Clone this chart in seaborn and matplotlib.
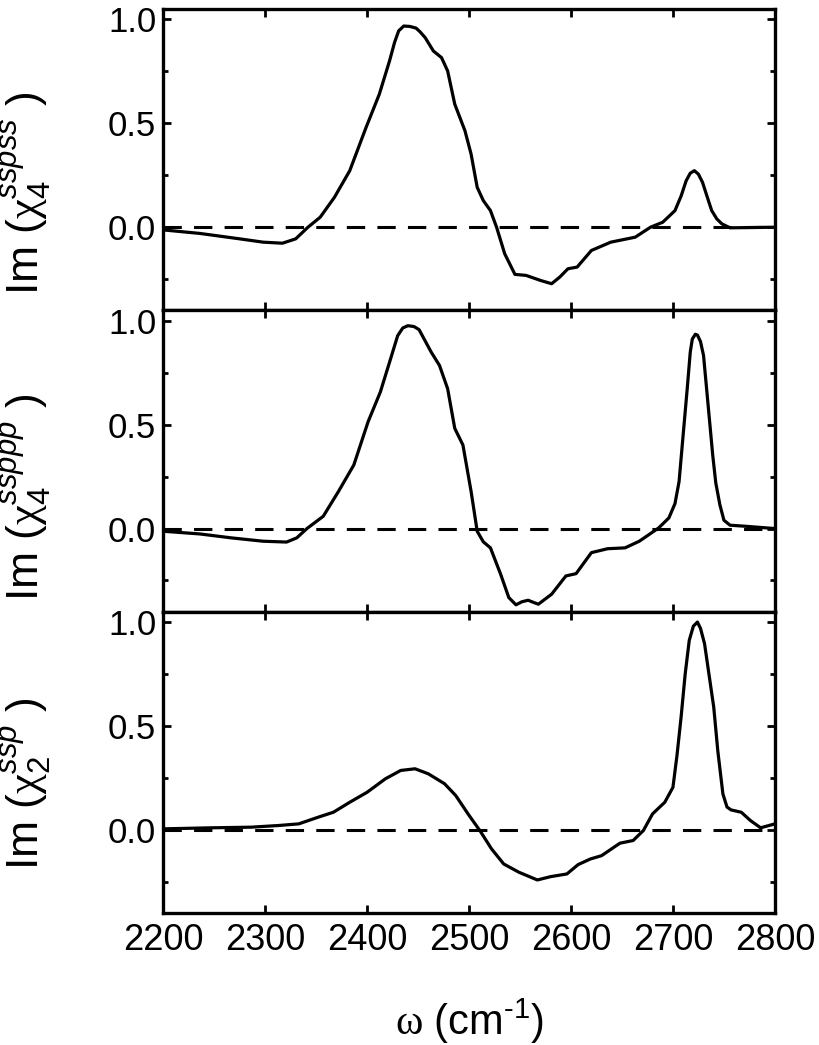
import matplotlib
matplotlib.use("Agg")
import matplotlib.pyplot as plt
import matplotlib.ticker as mticker
import pandas as pd
import seaborn as sns

sns.set_theme(style="white")
plt.rcParams['font.family'] = ['Liberation Sans', 'DejaVu Sans']
plt.rcParams['mathtext.fontset'] = 'custom'
plt.rcParams['mathtext.rm'] = 'Liberation Sans'
plt.rcParams['mathtext.it'] = 'Liberation Sans:italic'
plt.rcParams['mathtext.sf'] = 'Liberation Serif'
plt.rcParams['text.color'] = 'black'
plt.rcParams['axes.labelcolor'] = 'black'
plt.rcParams['xtick.color'] = 'black'
plt.rcParams['ytick.color'] = 'black'

## Data
x_sspss = [2200, 2236, 2275, 2298, 2317, 2330, 2342, 2354, 2368, 2383, 2399, 2412, 2422,
           2427, 2431, 2436, 2442, 2448, 2452, 2457, 2465, 2473, 2479, 2486, 2496, 2502,
           2508, 2514, 2521, 2527, 2535, 2545, 2556, 2570, 2581, 2589, 2597, 2606, 2620,
           2639, 2663, 2678, 2690, 2702, 2708, 2713, 2717, 2721, 2725, 2729, 2734, 2738,
           2743, 2748, 2756, 2800]
y_sspss = [-0.013, -0.030, -0.056, -0.072, -0.077, -0.056, 0.000, 0.048, 0.144, 0.272,
           0.480, 0.640, 0.800, 0.890, 0.945, 0.968, 0.966, 0.958, 0.940, 0.912, 0.848,
           0.816, 0.752, 0.592, 0.464, 0.352, 0.192, 0.128, 0.080, 0.000, -0.128, -0.227,
           -0.232, -0.256, -0.272, -0.240, -0.200, -0.192, -0.112, -0.072, -0.048, 0.000,
           0.024, 0.080, 0.150, 0.224, 0.260, 0.272, 0.255, 0.216, 0.140, 0.080, 0.040,
           0.016, -0.003, 0.000]

x_ssppp = [2200, 2236, 2267, 2298, 2321, 2331, 2341, 2357, 2372, 2387, 2401, 2413, 2422,
           2430, 2435, 2440, 2446, 2451, 2463, 2471, 2479, 2486, 2494, 2502, 2508, 2514,
           2521, 2531, 2539, 2546, 2552, 2558, 2563, 2568, 2581, 2595, 2605, 2620, 2636,
           2653, 2667, 2686, 2696, 2702, 2706, 2710, 2714, 2717, 2719, 2722, 2724, 2727,
           2730, 2734, 2739, 2742, 2746, 2750, 2756, 2771, 2800]
y_ssppp = [-0.013, -0.026, -0.045, -0.061, -0.065, -0.045, 0.000, 0.059, 0.179, 0.306,
           0.514, 0.657, 0.800, 0.928, 0.965, 0.976, 0.972, 0.957, 0.848, 0.785, 0.673,
           0.482, 0.402, 0.179, -0.013, -0.064, -0.093, -0.220, -0.332, -0.367, -0.352,
           -0.345, -0.355, -0.364, -0.316, -0.228, -0.217, -0.116, -0.097, -0.093,
           -0.061, 0.003, 0.051, 0.120, 0.226, 0.450, 0.673, 0.850, 0.912, 0.935, 0.931,
           0.900, 0.833, 0.620, 0.354, 0.220, 0.115, 0.040, 0.016, 0.011, 0.000]

x_ssp = [2200, 2247, 2286, 2313, 2333, 2352, 2367, 2383, 2400, 2418, 2433, 2447, 2460,
         2476, 2487, 2499, 2511, 2522, 2534, 2549, 2567, 2580, 2596, 2607, 2619, 2630,
         2648, 2661, 2671, 2680, 2692, 2700, 2704, 2708, 2712, 2716, 2720, 2724, 2727,
         2731, 2735, 2740, 2744, 2749, 2753, 2757, 2767, 2776, 2786, 2800]
y_ssp = [0.005, 0.010, 0.013, 0.021, 0.029, 0.061, 0.085, 0.133, 0.181, 0.246, 0.286,
         0.294, 0.270, 0.222, 0.165, 0.077, -0.006, -0.091, -0.164, -0.204, -0.241,
         -0.225, -0.212, -0.167, -0.140, -0.124, -0.064, -0.051, -0.003, 0.077, 0.133,
         0.205, 0.360, 0.543, 0.750, 0.912, 0.980, 1.000, 0.970, 0.896, 0.760, 0.591,
         0.380, 0.173, 0.110, 0.096, 0.085, 0.045, 0.010, 0.029]

labels = [r'Im ($\mathsf{\chi}_4^{sspss}$ )',
          r'Im ($\mathsf{\chi}_4^{ssppp}$ )',
          r'Im ($\mathsf{\chi}_2^{ssp}$ )']
label_y = [0.39, 0.38, 0.43]
xticks = [2200, 2300, 2400, 2500, 2600, 2700, 2800]
yticks = [0.0, 0.5, 1.0]

panels = [(x_sspss, y_sspss), (x_ssppp, y_ssppp), (x_ssp, y_ssp)]

## Figure
fig = plt.figure(figsize=(8.2, 10.45), dpi=100)
gs = fig.add_gridspec(3, 1, left=0.199, right=0.945, top=0.9914, bottom=0.1263, hspace=0)
axes = [fig.add_subplot(gs[i]) for i in range(3)]

for i, ax in enumerate(axes):
	xs, ys = panels[i]
	df = pd.DataFrame({"w": xs, "im": ys})
	sns.lineplot(data=df, x="w", y="im", ax=ax, color="black", linewidth=2.3, sort=False)
	ax.lines[-1].set_solid_joinstyle("round")
	ax.axhline(0, color="black", linestyle=(0, (6, 4)), linewidth=2.2, zorder=1)

	## axis style
	ax.set_xlim(2200, 2800)
	ax.set_ylim(-0.4, 1.05)
	ax.set_xticks(xticks)
	ax.set_yticks(yticks)
	ax.yaxis.set_minor_locator(mticker.FixedLocator([-0.25, 0.25, 0.75]))
	ax.yaxis.set_major_formatter(mticker.FormatStrFormatter('%.1f'))
	for s in ax.spines.values():
		s.set_linewidth(2.4)
		s.set_color("black")
	ax.tick_params(which="both", direction="in", top=True, right=True, bottom=True, left=True,
	               color="black", width=2)
	ax.tick_params(which="major", length=6)
	ax.tick_params(which="minor", length=3.5)
	ax.tick_params(axis="y", labelsize=25, pad=5, labelcolor="black")
	ax.tick_params(axis="x", labelsize=26, pad=7, labelcolor="black")
	if i < 2:
		ax.tick_params(axis="x", labelbottom=False)

	ax.set_ylabel(labels[i], fontsize=32, color="black")
	ax.yaxis.set_label_coords(-0.18, label_y[i])

axes[2].set_xlabel(r'$\mathsf{\omega}$ (cm$^{\text{-1}}$)', fontsize=30, labelpad=28, color="black")

fig.savefig("out.png", dpi=100)
plt.close(fig)
